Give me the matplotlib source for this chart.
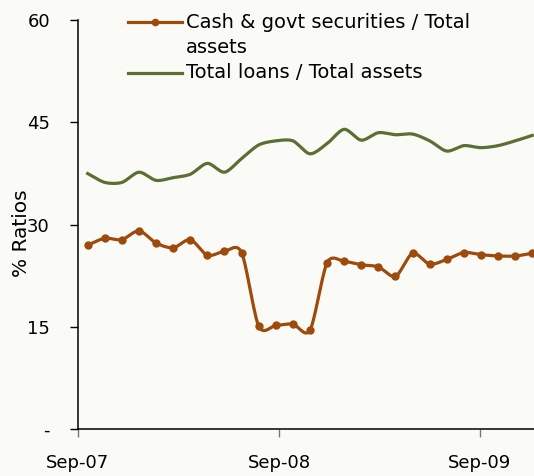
import numpy as np
import matplotlib
matplotlib.use("Agg")
import matplotlib.pyplot as plt
from matplotlib.lines import Line2D

# Monthly ratios (%)
cash_ratio = [27.0, 28.0, 27.8, 29.1, 27.3, 26.6, 27.8, 25.5, 26.1, 25.9,
              15.1, 15.2, 15.4, 14.5, 24.4, 24.6, 24.1, 23.8, 22.4, 25.8,
              24.2, 24.9, 25.9, 25.6, 25.4, 25.4, 25.8]
loans_ratio = [37.5, 36.2, 36.2, 37.7, 36.5, 36.9, 37.4, 39.0, 37.7, 39.7,
               41.7, 42.3, 42.3, 40.4, 41.9, 44.0, 42.4, 43.5, 43.2, 43.3,
               42.3, 40.8, 41.6, 41.3, 41.6, 42.3, 43.1]
tick_labels = ["Sep-07", "Sep-08", "Sep-09"]
y_ticks = [0, 15, 30, 45, 60]
y_tick_labels = ["-", "15", "30", "45", "60"]
series_names = ["Cash & govt securities / Total\nassets", "Total loans / Total assets"]

ORANGE = "#9D4A0C"
GREEN = "#5A6F31"
BG = "#FAFAF7"

plt.rcParams["font.family"] = ["DejaVu Sans"]


def smooth(y, steps=24, tension=0.42):
    """Cardinal spline through the points, like a smoothed line chart."""
    y = np.asarray(y, float)
    x = np.arange(len(y), dtype=float)
    px = np.concatenate([[2 * x[0] - x[1]], x, [2 * x[-1] - x[-2]]])
    py = np.concatenate([[2 * y[0] - y[1]], y, [2 * y[-1] - y[-2]]])
    t = np.linspace(0, 1, steps, endpoint=False)
    h00 = 2 * t ** 3 - 3 * t ** 2 + 1
    h10 = t ** 3 - 2 * t ** 2 + t
    h01 = -2 * t ** 3 + 3 * t ** 2
    h11 = t ** 3 - t ** 2
    xs, ys = [], []
    for i in range(1, len(px) - 2):
        for P, out in ((px, xs), (py, ys)):
            m1 = tension * (P[i + 1] - P[i - 1])
            m2 = tension * (P[i + 2] - P[i])
            out.append(h00 * P[i] + h10 * m1 + h01 * P[i + 1] + h11 * m2)
    xs.append([x[-1]])
    ys.append([y[-1]])
    return np.concatenate(xs), np.concatenate(ys)


fig = plt.figure(figsize=(5.34, 4.76), dpi=100, facecolor=BG)
ax = fig.add_axes([77.7 / 534, 1 - 429 / 476, 1 - 77.7 / 534, (429 - 20.3) / 476])
ax.set_facecolor(BG)

idx = np.arange(len(cash_ratio))
sx, sy = smooth(cash_ratio)
ax.plot(sx, sy, color=ORANGE, lw=2.3, solid_capstyle="round", clip_on=False, zorder=3)
ax.plot(idx, cash_ratio, ls="none", marker="o", ms=5, color=ORANGE, clip_on=False, zorder=4)
gx, gy = smooth(loans_ratio)
ax.plot(gx, gy, color=GREEN, lw=2.3, clip_on=False, zorder=3)

ax.set_ylim(0, 60)
ax.set_xlim(-0.585, 26.1)
ax.set_yticks(y_ticks)
ax.set_yticklabels(y_tick_labels, fontsize=13)
ax.set_xticks([-0.585, 11.19, 22.94])
ax.set_xticklabels(tick_labels, fontsize=13)
ax.tick_params(axis="y", direction="out", length=6, width=1, pad=14)
ax.tick_params(axis="x", direction="out", length=6, width=1, pad=12, color="#777777")
for s in ("top", "right"):
    ax.spines[s].set_visible(False)
for s in ("left", "bottom"):
    ax.spines[s].set_linewidth(1.1)
    ax.spines[s].set_color("black")
ax.spines["bottom"].set_zorder(5)

fig.text(22 / 534, 1 - 233 / 476, "% Ratios", rotation=90, fontsize=14.5,
         ha="center", va="center")

# Legend, drawn in figure pixels
def fx(px):
    return px / 534


def fy(py):
    return 1 - py / 476


fig.add_artist(Line2D([fx(128), fx(182)], [fy(22), fy(22)], color=ORANGE, lw=2.3))
fig.add_artist(Line2D([fx(155)], [fy(22)], marker="o", ms=4.5, color=ORANGE))
fig.add_artist(Line2D([fx(128), fx(182)], [fy(73), fy(73)], color=GREEN, lw=2.3))
first, second = series_names[0].split("\n")
fig.text(fx(186), fy(22), first, fontsize=14, va="center")
fig.text(fx(186), fy(47.5), second, fontsize=14, va="center")
fig.text(fx(186), fy(73), series_names[1], fontsize=14, va="center")

fig.savefig("out.png", dpi=100, facecolor=BG)
